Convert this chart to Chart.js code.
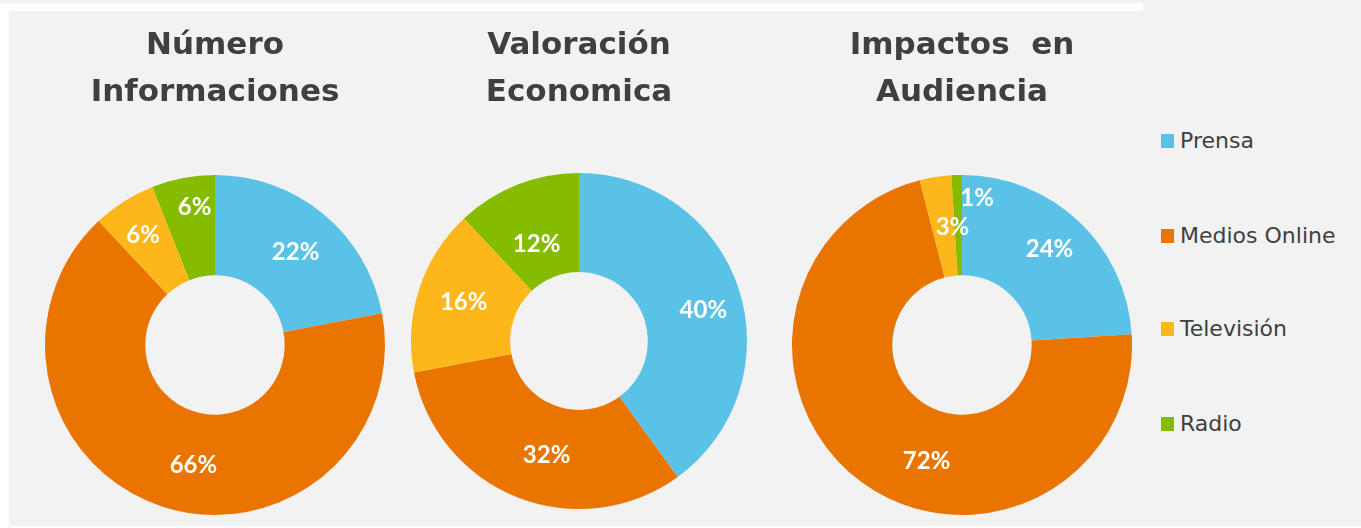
<!DOCTYPE html>
<html>
<head>
<meta charset="utf-8">
<script src="https://cdn.jsdelivr.net/npm/chart.js@4.4.1/dist/chart.umd.min.js"></script>
<style>
  html, body { margin:0; padding:0; background:#fff; width:1361px; height:528px; overflow:hidden; }
  .strip { position:absolute; background:#f2f2f2; }
  .panel { position:absolute; left:9px; top:11px; width:1352px; height:515px; background:#f2f2f2; }
  .box { position:absolute; top:10px; width:380px; height:516px; }
  #legend { position:absolute; left:1161px; top:0; font-family:"DejaVu Sans", sans-serif; font-size:22px; color:#404040; }
  #legend div { position:absolute; white-space:nowrap; display:flex; align-items:center; }
  #legend span.sw { display:inline-block; width:13px; height:14px; margin-right:6px; }
</style>
</head>
<body>
<div class="strip" style="left:0;top:0;width:1361px;height:3px"></div>
<div class="strip" style="left:1143px;top:0;width:218px;height:12px"></div>
<div class="panel"></div>
<div class="box" style="left:25px"><canvas id="c1"></canvas></div>
<div class="box" style="left:389px"><canvas id="c2"></canvas></div>
<div class="box" style="left:772px"><canvas id="c3"></canvas></div>
<div id="legend"></div>
<script>
// data
const categories = ['Prensa', 'Medios Online', 'Televisión', 'Radio'];
const colors = ['#5bc2e7', '#e97500', '#fdb71a', '#85bc00'];
const numeroInformaciones = [22, 66, 6, 6];
const valoracionEconomica = [40, 32, 16, 12];
const impactosAudiencia = [24, 72, 3, 1];
const titles = [['Número', 'Informaciones'], ['Valoración', 'Economica'], ['Impactos  en', 'Audiencia']];

// draws the % labels on each slice
const sliceLabels = {
  id: 'sliceLabels',
  afterDatasetsDraw(chart, args, opts) {
    const ctx = chart.ctx;
    const meta = chart.getDatasetMeta(0);
    const vals = chart.data.datasets[0].data;
    const shift = opts.shift || [];
    ctx.save();
    ctx.fillStyle = '#fff';
    ctx.font = 'bold 24px Lato, sans-serif';
    ctx.textAlign = 'center';
    ctx.textBaseline = 'middle';
    meta.data.forEach((arc, i) => {
      const p = arc.getProps(['x', 'y', 'startAngle', 'endAngle', 'innerRadius', 'outerRadius'], true);
      const a = (p.startAngle + p.endAngle) / 2;
      const r = p.innerRadius + (p.outerRadius - p.innerRadius) * 0.55;
      const s = shift[i] || [0, 0];
      ctx.fillText(vals[i] + '%', p.x + Math.cos(a) * r + s[0], p.y + Math.sin(a) * r + s[1]);
    });
    ctx.restore();
  }
};

function makeChart(id, title, values, shift, padBottom, titleGap) {
  return new Chart(document.getElementById(id), {
    type: 'doughnut',
    data: { labels: categories, datasets: [{ data: values, backgroundColor: colors, borderWidth: 0 }] },
    options: {
      responsive: true,
      maintainAspectRatio: false,
      animation: false,
      cutout: '41%',
      layout: { padding: { bottom: padBottom } },
      plugins: {
        legend: { display: false },
        tooltip: { enabled: false },
        title: {
          display: true,
          text: title,
          color: '#3f3f3f',
          font: { family: '"DejaVu Sans", sans-serif', size: 31, weight: 'bold', lineHeight: '47px' },
          padding: { top: 12, bottom: titleGap }
        },
        sliceLabels: { shift: shift }
      }
    },
    plugins: [sliceLabels]
  });
}

makeChart('c1', titles[0], numeroInformaciones, [[1, 3], [17, 2], [-5, -4], [3, -15]], 11, 59);
makeChart('c2', titles[1], valoracionEconomica, [[7, 7], [13, 0], [2, -1], [3, 18]], 17, 57);
makeChart('c3', titles[2], impactosAudiencia, [[2, -5], [38, 15], [10, 6], [19, -22]], 11, 59);

// legend
const legend = document.getElementById('legend');
const legendY = [140, 235, 328, 423];
categories.forEach((c, i) => {
  const d = document.createElement('div');
  d.style.top = (legendY[i] - 12) + 'px';
  d.innerHTML = '<span class="sw" style="background:' + colors[i] + '"></span>' + c;
  legend.appendChild(d);
});
</script>
</body>
</html>
